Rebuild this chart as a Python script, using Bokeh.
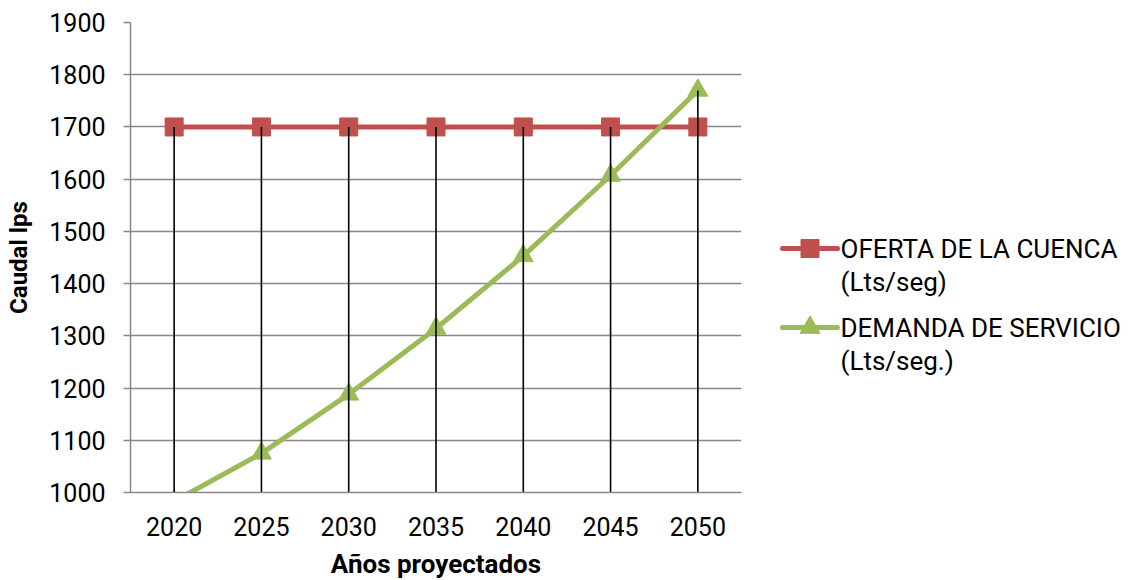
from bokeh.plotting import figure
from bokeh.models import FactorRange, SingleIntervalTicker, Range1d
from bokeh.layouts import row
from bokeh.core.properties import value
from bokeh.embed import file_html
from bokeh.resources import INLINE

years = ["2020", "2025", "2030", "2035", "2040", "2045", "2050"]
oferta = [1700, 1700, 1700, 1700, 1700, 1700, 1700]
demanda = [983, 1075, 1188, 1314, 1453, 1607, 1770]
series_names = ["OFERTA DE LA CUENCA", "DEMANDA DE SERVICIO"]
series_units = ["(Lts/seg)", "(Lts/seg.)"]

RED = "#C0504D"
GREEN = "#9BBB59"
FONT = "Roboto"

p = figure(x_range=FactorRange(*years), y_range=(1000, 1900),
           frame_width=611, frame_height=470,
           min_border_left=130, min_border_top=22, min_border_right=10, min_border_bottom=80,
           output_backend="svg", toolbar_location=None)
p.outline_line_color = None

p.line(years, oferta, line_color=RED, line_width=5)
p.scatter(years, oferta, marker="square", size=18, fill_color=RED, line_color=RED)
p.line(years, demanda, line_color=GREEN, line_width=5)
p.scatter(years, demanda, marker="triangle", size=20, fill_color=GREEN, line_color=GREEN)

# drop lines (from the highest series value down to the axis)
tops = [max(a, b) for a, b in zip(oferta, demanda)]
p.segment(x0=years, y0=[1000] * len(years), x1=years, y1=tops, line_color="black", line_width=1.6)

p.yaxis.ticker = SingleIntervalTicker(interval=100)
p.ygrid.ticker = SingleIntervalTicker(interval=100)
p.ygrid.grid_line_color = "#888888"
p.ygrid.grid_line_width = 1.5
p.xgrid.grid_line_color = None

for ax in (p.xaxis[0], p.yaxis[0]):
    ax.axis_line_color = "#888888"
    ax.axis_line_width = 1.5
    ax.major_label_text_font = FONT
    ax.major_label_text_font_size = "25px"
    ax.major_label_text_color = "black"
    ax.minor_tick_line_color = None
    ax.axis_label_text_font = FONT
    ax.axis_label_text_font_style = "bold"
    ax.axis_label_text_color = "black"

p.yaxis.major_tick_line_color = "#888888"
p.yaxis.major_tick_line_width = 1.5
p.yaxis.major_tick_out = 7
p.yaxis.major_tick_in = 0
p.yaxis.major_label_standoff = 18
p.yaxis.axis_label = "Caudal lps"
p.yaxis.axis_label_text_font_size = "24px"
p.yaxis.axis_label_standoff = 13

p.xaxis.major_tick_line_color = None
p.xaxis.major_label_standoff = 18
p.xaxis.axis_label = "Años proyectados"
p.xaxis.axis_label_text_font_size = "26px"
p.xaxis.axis_label_standoff = 10

# legend panel; its frame is aligned with the main frame (top 22, height 470),
# so ranges are set so that data coordinates equal page pixels
LW = 372
x_start = 751
lg = figure(frame_width=LW, frame_height=470, x_range=Range1d(x_start, x_start + LW),
            y_range=Range1d(492, 22),
            x_axis_type=None, y_axis_type=None, min_border=0,
            output_backend="svg", toolbar_location=None)
lg.outline_line_color = None
lg.grid.visible = False

item_y = [248, 327]
colors = [RED, GREEN]
markers = ["square", "triangle"]
sizes = [18, 20]
for i in range(2):
    y = item_y[i]
    lg.line([782, 837], [y, y], line_color=colors[i], line_width=5, line_cap="round")
    lg.scatter([809.5], [y], marker=markers[i], size=sizes[i], fill_color=colors[i], line_color=colors[i])
    lg.text([840], [y], text=[series_names[i]], text_font=value(FONT), text_font_size="26px",
            text_baseline="middle", text_align="left", text_color="black")
    lg.text([840], [y + 33], text=[series_units[i]], text_font=value(FONT), text_font_size="26px",
            text_baseline="middle", text_align="left", text_color="black")

layout = row(p, lg, spacing=0)
open("out.html", "w").write(file_html(layout, INLINE))
